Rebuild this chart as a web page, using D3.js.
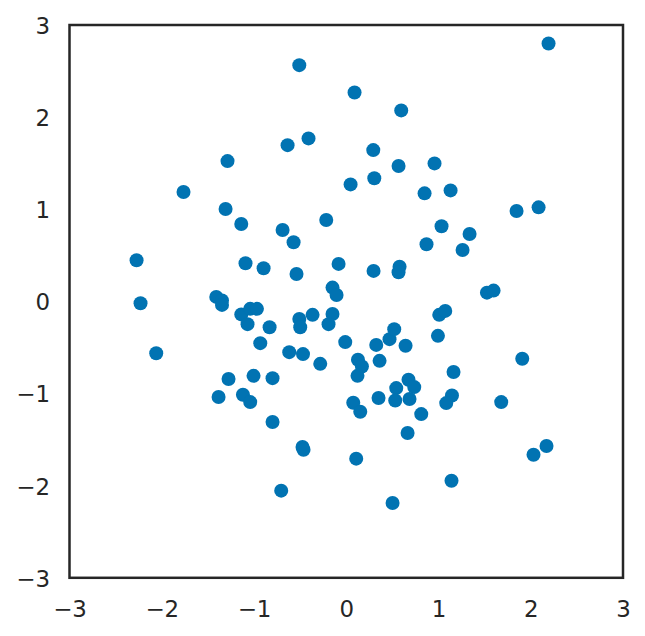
<!DOCTYPE html>
<html>
<head>
<meta charset="utf-8">
<script src="https://cdn.jsdelivr.net/npm/d3@7"></script>
<style>
html,body{margin:0;padding:0;background:#fff;}
svg{display:block;}
</style>
</head>
<body>
<svg id="chart" width="645" height="636"></svg>
<script>
const xValues = [2.193,-0.509,0.090,0.596,-0.409,-0.636,0.293,-1.287,0.957,0.567,
0.304,0.047,-1.764,0.849,1.131,-1.308,1.846,2.085,-0.217,1.033,
-1.138,-0.690,1.337,-0.571,0.870,1.261,-2.273,-1.092,-0.896,-0.083,
0.578,0.567,0.296,-0.539,-0.149,-0.105,1.525,1.597,-2.230,-1.409,
-1.347,-1.347,-1.138,-1.041,-0.968,-1.070,-0.831,-0.509,-0.499,-0.365,
-0.149,-0.192,-0.932,-0.011,-2.060,-0.618,-0.469,-0.282,0.127,0.170,
0.122,-1.276,-1.005,-0.799,-1.384,-1.120,-1.041,0.076,0.152,-0.799,
-0.474,-0.463,0.108,-0.705,1.008,1.073,0.325,0.469,0.520,0.643,
0.994,0.361,1.908,1.163,0.675,0.737,0.542,0.350,0.531,0.686,
1.146,1.084,1.680,0.813,0.665,2.030,2.171,1.141,0.502];
const yValues = [2.799,2.564,2.268,2.073,1.769,1.696,1.642,1.523,1.498,1.469,
1.336,1.270,1.187,1.173,1.205,1.003,0.981,1.021,0.883,0.815,
0.840,0.775,0.732,0.642,0.620,0.558,0.447,0.414,0.360,0.407,
0.377,0.317,0.331,0.298,0.150,0.070,0.095,0.117,-0.020,0.049,
0.009,-0.038,-0.141,-0.081,-0.081,-0.247,-0.280,-0.190,-0.280,-0.146,
-0.136,-0.247,-0.453,-0.442,-0.562,-0.551,-0.572,-0.678,-0.634,-0.707,
-0.808,-0.843,-0.808,-0.833,-1.038,-1.014,-1.093,-1.100,-1.198,-1.309,
-1.580,-1.610,-1.707,-2.054,-0.146,-0.103,-0.472,-0.410,-0.301,-0.482,
-0.374,-0.645,-0.623,-0.767,-0.851,-0.930,-0.941,-1.049,-1.075,-1.060,
-1.021,-1.104,-1.093,-1.223,-1.429,-1.664,-1.570,-1.946,-2.188];
const xTicks = [-3,-2,-1,0,1,2,3];
const yTicks = [-3,-2,-1,0,1,2,3];

const svg = d3.select("#chart");
const plotLeft = 69.5, plotRight = 623, plotTop = 25, plotBottom = 577.8;
const x = d3.scaleLinear().domain([-3,3]).range([plotLeft,plotRight]);
const y = d3.scaleLinear().domain([-3,3]).range([plotBottom,plotTop]);
const fmt = d3.format("d");
const textColor = "#262626";
const font = "DejaVu Sans, sans-serif";

const pts = xValues.map((v,i)=>({x:v,y:yValues[i]}));
svg.append("g").selectAll("circle").data(pts).join("circle")
  .attr("cx", d=>x(d.x)).attr("cy", d=>y(d.y)).attr("r", 7)
  .attr("fill", "#0173b2");

svg.append("rect")
  .attr("x", plotLeft).attr("y", plotTop)
  .attr("width", plotRight-plotLeft).attr("height", plotBottom-plotTop)
  .attr("fill","none").attr("stroke","#262626").attr("stroke-width",2.5);

// x axis
const xAxis = d3.axisBottom(x).tickValues(xTicks).tickFormat(fmt).tickSize(0).tickPadding(0);
const gx = svg.append("g").attr("transform",`translate(0,${plotBottom})`).call(xAxis);
gx.select(".domain").remove();
gx.selectAll("text").attr("y",39.2).attr("dy",null)
  .attr("fill",textColor).style("font-family",font).style("font-size","22.9px");

// y axis
const yAxis = d3.axisLeft(y).tickValues(yTicks).tickFormat(fmt).tickSize(0).tickPadding(0);
const gy = svg.append("g").attr("transform",`translate(${plotLeft},0)`).call(yAxis);
gy.select(".domain").remove();
gy.selectAll("text").attr("x",-19.5).attr("dy",null).attr("y",8.4)
  .attr("text-anchor","end")
  .attr("fill",textColor).style("font-family",font).style("font-size","22.9px");
</script>
</body>
</html>
